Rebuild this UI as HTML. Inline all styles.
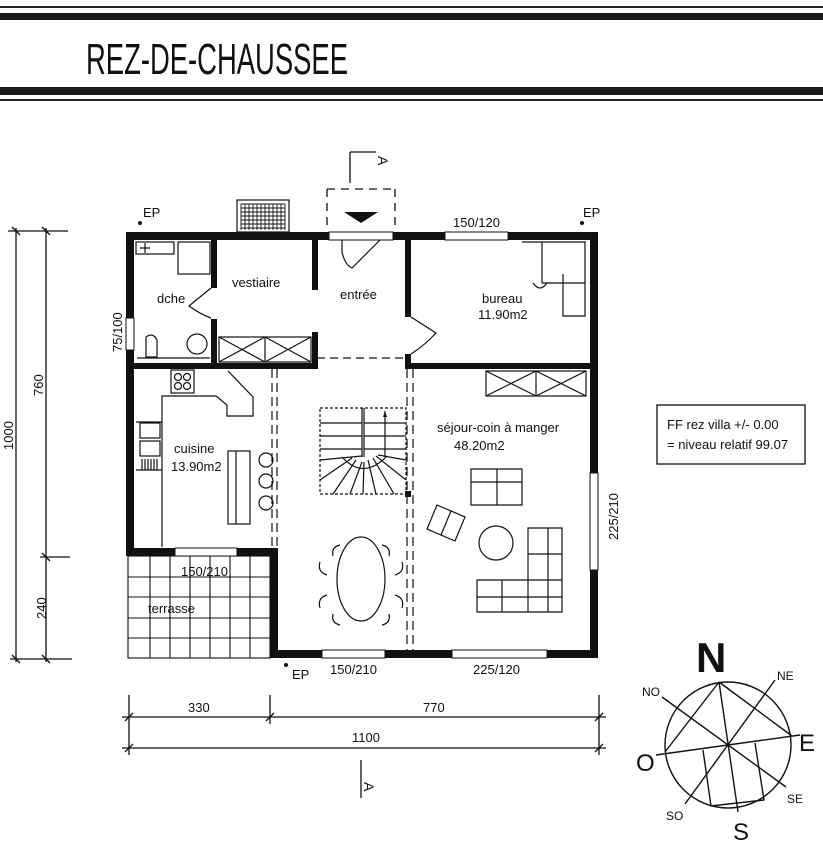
<!DOCTYPE html>
<html><head><meta charset="utf-8"><style>
html,body{margin:0;padding:0;background:#fff;}
svg{display:block;}
text{font-family:"Liberation Sans Narrow","Liberation Sans",sans-serif;fill:#111;}
</style></head><body>
<svg width="823" height="865" viewBox="0 0 823 865" xmlns="http://www.w3.org/2000/svg">
<rect x="0" y="6" width="823" height="2" fill="#222"/>
<rect x="0" y="13" width="823" height="7" fill="#1a1a1a"/>
<text x="86" y="74" font-size="44" style="font-family:'Liberation Sans',sans-serif" textLength="262" lengthAdjust="spacingAndGlyphs">REZ-DE-CHAUSSEE</text>
<rect x="0" y="87" width="823" height="8" fill="#1a1a1a"/>
<rect x="0" y="99" width="823" height="2" fill="#222"/>

<g stroke="#111" stroke-width="1.3" fill="none">
<line x1="16" y1="228" x2="16" y2="662"/>
<line x1="46" y1="228" x2="46" y2="662"/>
<line x1="8" y1="231" x2="68" y2="231"/>
<line x1="40" y1="557" x2="70" y2="557"/>
<line x1="10" y1="659" x2="72" y2="659"/>
<line x1="12" y1="227" x2="20" y2="235"/><line x1="42" y1="227" x2="50" y2="235"/>
<line x1="42" y1="553" x2="50" y2="561"/>
<line x1="12" y1="655" x2="20" y2="663"/><line x1="42" y1="655" x2="50" y2="663"/>
</g>
<text font-size="13" transform="translate(13,450) rotate(-90)">1000</text>
<text font-size="13" transform="translate(43,396) rotate(-90)">760</text>
<text font-size="13" transform="translate(46,619) rotate(-90)">240</text>
<text font-size="13" transform="translate(122,352) rotate(-90)">75/100</text>

<g stroke="#111" stroke-width="1.3">
<line x1="122" y1="717" x2="606" y2="717"/>
<line x1="122" y1="748" x2="606" y2="748"/>
<line x1="129" y1="695" x2="129" y2="755"/>
<line x1="270" y1="695" x2="270" y2="724"/>
<line x1="599" y1="695" x2="599" y2="755"/>
<line x1="125" y1="721" x2="133" y2="713"/><line x1="266" y1="721" x2="274" y2="713"/><line x1="595" y1="721" x2="603" y2="713"/>
<line x1="125" y1="752" x2="133" y2="744"/><line x1="595" y1="752" x2="603" y2="744"/>
<line x1="361" y1="760" x2="361" y2="798"/>
<line x1="350" y1="152" x2="350" y2="183"/>
</g>
<text x="188" y="712" font-size="13">330</text>
<text x="423" y="712" font-size="13">770</text>
<text x="352" y="742" font-size="13">1100</text>
<text font-size="14" transform="translate(364,782) rotate(90)">A</text>
<text font-size="14" transform="translate(378,156) rotate(90)">A</text>
<line x1="350" y1="152" x2="376" y2="152" stroke="#111" stroke-width="1.2"/>

<path d="M327 189 V230 M395 189 V230 M327 189 H395" stroke="#111" stroke-width="1.3" stroke-dasharray="8,6" fill="none"/>
<polygon points="344,212 378,212 361,223" fill="#111"/>
<rect x="237" y="200" width="52" height="32" fill="#fff" stroke="#111" stroke-width="1.2"/>
<g stroke="#111" stroke-width="0.9">
<path d="M241 204 H285 M241 208 H285 M241 212 H285 M241 216 H285 M241 220 H285 M241 224 H285 M241 228 H285"/>
<path d="M241 204 V230 M245 204 V230 M249 204 V230 M253 204 V230 M257 204 V230 M261 204 V230 M265 204 V230 M269 204 V230 M273 204 V230 M277 204 V230 M281 204 V230 M285 204 V230"/>
</g>

<g stroke="#111" stroke-width="1.1" fill="none">
<rect x="128" y="556" width="142" height="102"/>
<path d="M150 556V658 M170 556V658 M190 556V658 M210 556V658 M230 556V658 M250 556V658"/>
<path d="M128 577H270 M128 597H270 M128 618H270 M128 638H270"/>
</g>
<text x="181" y="576" font-size="13">150/210</text>
<text x="148" y="613" font-size="13">terrasse</text>

<g fill="#111">
<rect x="126" y="232" width="472" height="8"/>
<rect x="126" y="232" width="8" height="324"/>
<rect x="590" y="232" width="8" height="426"/>
<rect x="270" y="650" width="328" height="8"/>
<rect x="126" y="548" width="152" height="8"/>
<rect x="270" y="548" width="8" height="110"/>
<rect x="211" y="240" width="6" height="48"/>
<rect x="211" y="319" width="6" height="50"/>
<rect x="312" y="240" width="6" height="50"/>
<rect x="312" y="332" width="6" height="37"/>
<rect x="405" y="240" width="6" height="77"/>
<rect x="405" y="354" width="6" height="15"/>
<rect x="134" y="363" width="184" height="6"/>
<rect x="405" y="363" width="185" height="6"/>
</g>
<g fill="#fff" stroke="#111" stroke-width="1">
<rect x="329" y="232" width="64" height="8"/>
<rect x="445" y="232" width="63" height="8"/>
<rect x="126" y="318" width="8" height="32"/>
<rect x="590" y="473" width="8" height="97"/>
<rect x="322" y="650" width="63" height="8"/>
<rect x="452" y="650" width="95" height="8"/>
<rect x="175" y="548" width="62" height="8"/>
</g>
<g stroke="#111" stroke-width="1.2" fill="none">
<path d="M342 240 V252 Q345 265 352 268 L380 240"/>
<path d="M211 288 L189 306 Q200 314 211 318"/>
<path d="M411 317 L436 333 Q425 345 411 354"/>
<path d="M317 358 H405" stroke-dasharray="8,5"/>
<path d="M272 369V548 M277 369V548" stroke-dasharray="9,5"/>
<path d="M407 369V650 M413 369V650" stroke-dasharray="9,5"/>
<rect x="136" y="242" width="38" height="12"/>
<rect x="178" y="242" width="32" height="32"/>
<path d="M140 248H150 M145 243V253" />
<path d="M146 337 Q153 332 157 340 V357 H146 Z"/>
<path d="M137 358H210"/>
<circle cx="197" cy="344" r="10"/>
<rect x="219" y="337" width="92" height="25"/>
<path d="M219 337 L265 362 M265 337 L219 362 M265 337 V362 M265 337 L311 362 M311 337 L265 362"/>
<rect x="486" y="371" width="100" height="25"/>
<path d="M486 371 L536 396 M536 371 L486 396 M536 371 V396 M536 371 L586 396 M586 371 L536 396"/>
<path d="M522 242 H585 V283 H542 V242 M563 274 V316 H585 V283"/>
<path d="M533 283 Q540 293 547 283"/>
<rect x="171" y="370" width="23" height="23"/>
<circle cx="178" cy="377" r="3.5"/><circle cx="187" cy="377" r="3.5"/><circle cx="178" cy="386" r="3.5"/><circle cx="187" cy="386" r="3.5"/>
<path d="M162 547 V396 H216 L227 405 V416 H253 V397 L228 371"/>
<path d="M136 422 H162 M136 470 H162"/>
<rect x="140" y="423" width="20" height="15"/><rect x="140" y="441" width="20" height="15"/>
<path d="M142 459V470 M145 459V470 M148 459V470 M151 459V470 M154 459V470 M157 459V470"/>
<rect x="228" y="451" width="22" height="73"/>
<path d="M236 451V524"/>
<circle cx="266" cy="460" r="7"/><circle cx="266" cy="481" r="7"/><circle cx="266" cy="503" r="7"/>
<rect x="320" y="408" width="86" height="86" stroke-dasharray="3,2"/>
<path d="M362 408 V457 M364 408 V457 M320 423H362 M364 423H406 M320 436H362 M364 436H406 M320 449H362 M364 449H406"/>
<path d="M320 460 L362 456 M320 480 L352 458 M333 494 L356 460 M350 494 L362 462 M363 494 L364 462 M376 494 L368 460 M394 494 L373 458 M406 480 L376 456 M406 460 L378 455"/>
<path d="M342 457 Q363 480 386 457"/>
<path d="M385 457 V411"/>
<ellipse cx="361" cy="579" rx="24" ry="42"/>
<path d="M333 556 Q331 547 340 545 M389 556 Q391 547 382 545 M327 575 Q317 572 320 562 M395 575 Q405 572 402 562 M327 595 Q317 598 320 608 M395 595 Q405 598 402 608 M333 614 Q331 623 340 625 M389 614 Q391 623 382 625"/>
<path d="M471 469 H522 V505 H471 Z M497 469 V505 M471 482 H522"/>
<path d="M437 505 L465 517 L455 541 L427 529 Z M451 511 L441 535"/>
<circle cx="496" cy="543" r="17"/>
<path d="M528 528 H562 V612 H477 V580 H528 Z M528 554 H562 M528 580 H562 M548 528 V612 M502 580 V612 M477 597 H562 M528 580 V612"/>
</g>
<rect x="405" y="491" width="6" height="6" fill="#111"/>
<path d="M385 411 l-2 6 h4 z" fill="#111"/>

<text x="157" y="303" font-size="13">dche</text>
<text x="232" y="287" font-size="13">vestiaire</text>
<text x="340" y="299" font-size="13">entrée</text>
<text x="482" y="303" font-size="13">bureau</text>
<text x="478" y="319" font-size="13">11.90m2</text>
<text x="174" y="453" font-size="13">cuisine</text>
<text x="171" y="471" font-size="13">13.90m2</text>
<text x="437" y="432" font-size="13">séjour-coin à manger</text>
<text x="454" y="450" font-size="13">48.20m2</text>

<text x="453" y="227" font-size="13">150/120</text>
<text x="330" y="674" font-size="13">150/210</text>
<text x="473" y="674" font-size="13">225/120</text>
<text font-size="13" transform="translate(618,540) rotate(-90)">225/210</text>
<text x="143" y="217" font-size="13">EP</text>
<circle cx="140" cy="223" r="2" fill="#111"/>
<text x="583" y="217" font-size="13">EP</text>
<circle cx="582" cy="223" r="2" fill="#111"/>
<text x="292" y="679" font-size="13">EP</text>
<circle cx="286" cy="665" r="2" fill="#111"/>

<rect x="657" y="405" width="148" height="59" fill="none" stroke="#111" stroke-width="1.3"/>
<text x="667" y="429" font-size="13">FF rez villa +/- 0.00</text>
<text x="667" y="449" font-size="13">= niveau relatif 99.07</text>

<g stroke="#111" stroke-width="1.4" fill="none">
<circle cx="728" cy="745" r="63"/>
<line x1="719" y1="682" x2="738" y2="812"/>
<line x1="656" y1="755" x2="800" y2="735"/>
<line x1="662" y1="697" x2="786" y2="787"/>
<line x1="685" y1="804" x2="775" y2="680"/>
<line x1="719" y1="682" x2="665" y2="752"/>
<line x1="719" y1="682" x2="792" y2="736"/>
<path d="M703 750 L711 806 L764 800 L755 743"/>
</g>
<text x="696" y="672" font-size="42" font-weight="bold" style="font-family:'Liberation Sans',sans-serif">N</text>
<text x="642" y="696" font-size="12">NO</text>
<text x="777" y="680" font-size="12">NE</text>
<text x="636" y="771" font-size="24">O</text>
<text x="799" y="751" font-size="24">E</text>
<text x="666" y="820" font-size="12">SO</text>
<text x="787" y="803" font-size="12">SE</text>
<text x="733" y="840" font-size="24">S</text>
</svg>
</body></html>
